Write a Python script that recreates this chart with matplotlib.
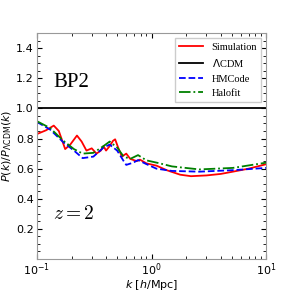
import matplotlib
matplotlib.use("Agg")
import matplotlib.pyplot as plt
import numpy as np

k_sim = [0.1, 0.12, 0.14, 0.155, 0.176, 0.195, 0.223, 0.245, 0.27, 0.30, 0.33, 0.36,
         0.38, 0.40, 0.43, 0.46, 0.48, 0.51, 0.55, 0.60, 0.65, 0.74, 0.79, 0.9, 1.1,
         1.35, 1.77, 2.2, 3.0, 4.0, 5.1, 7.0, 10.0]
r_sim = [0.83, 0.855, 0.886, 0.85, 0.73, 0.76, 0.82, 0.78, 0.72, 0.735, 0.70, 0.72,
         0.75, 0.72, 0.75, 0.785, 0.795, 0.74, 0.68, 0.70, 0.665, 0.65, 0.66, 0.635, 0.62,
         0.59, 0.56, 0.55, 0.555, 0.565, 0.58, 0.60, 0.63]

k_hm = [0.1, 0.13, 0.17, 0.21, 0.25, 0.31, 0.38, 0.43, 0.5, 0.57, 0.6, 0.69, 0.76,
        0.9, 1.1, 1.5, 2.6, 5.1, 10.0]
r_hm = [0.91, 0.86, 0.775, 0.72, 0.67, 0.68, 0.74, 0.76, 0.72, 0.65, 0.625, 0.64, 0.657,
        0.63, 0.60, 0.585, 0.58, 0.59, 0.605]

k_hf = [0.1, 0.13, 0.17, 0.21, 0.25, 0.31, 0.38, 0.43, 0.5, 0.57, 0.65, 0.76, 0.9,
        1.18, 1.5, 2.6, 5.1, 10.0]
r_hf = [0.915, 0.87, 0.785, 0.73, 0.70, 0.705, 0.75, 0.78, 0.74, 0.68, 0.665, 0.69, 0.655,
        0.635, 0.615, 0.595, 0.605, 0.64]

fig, ax = plt.subplots(figsize=(2.96, 2.96), dpi=100)
fig.subplots_adjust(left=0.125, right=0.9, bottom=0.125, top=0.888)

ax.plot(k_sim, r_sim, color='red', lw=1.3, label='Simulation')
ax.axhline(1.0, color='black', lw=1.3, label=r'$\Lambda$CDM')
ax.plot(k_hm, r_hm, color='blue', ls='--', lw=1.3, label='HMCode')
ax.plot(k_hf, r_hf, color='green', ls='-.', lw=1.3, label='Halofit')

ax.set_xscale('log')
ax.set_xlim(0.1, 10)
ax.set_ylim(0.0, 1.5)
ax.set_yticks([0.2, 0.4, 0.6, 0.8, 1.0, 1.2, 1.4])
ax.yaxis.set_minor_locator(matplotlib.ticker.MultipleLocator(0.05))
ax.tick_params(which='both', direction='in', top=True, right=True, labelsize=8)
ax.tick_params(which='major', length=3.5)
ax.tick_params(which='minor', length=2)
ax.tick_params(axis='x', which='both', pad=1.5)
ax.tick_params(axis='y', which='both', pad=2.5)
for s in ax.spines.values():
    s.set_color('#999999')

ax.set_xlabel(r'$k$ [$h$/Mpc]', fontsize=8, labelpad=0)
ax.set_ylabel(r'$P(k)/P_{\Lambda\rm CDM}(k)$', fontsize=8, labelpad=1)

ax.text(0.07, 0.78, 'BP2', transform=ax.transAxes, fontsize=15,
        family='Liberation Serif', va='center')
ax.text(0.07, 0.2, r'$z=2$', transform=ax.transAxes, fontsize=14,
        math_fontfamily='cm', va='center')

ax.legend(loc='upper right', prop={'family': 'Liberation Serif', 'size': 7.5},
          handlelength=2.3, fancybox=False, edgecolor='#cccccc', framealpha=1)

fig.savefig('out.png', dpi=100)
